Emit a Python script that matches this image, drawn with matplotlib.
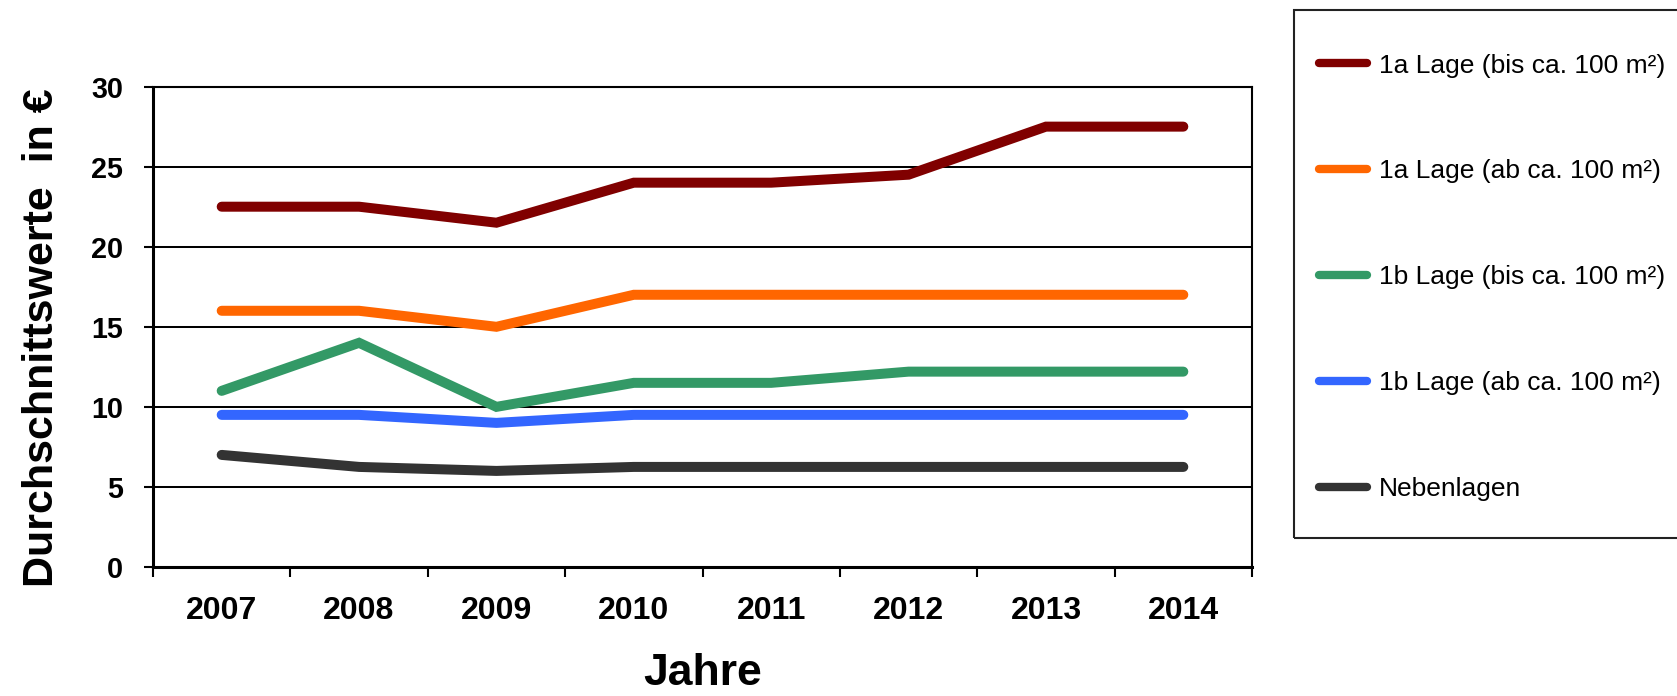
import matplotlib
matplotlib.use("Agg")
import matplotlib.pyplot as plt
from matplotlib.patches import Rectangle

plt.rcParams['font.family'] = ['Liberation Sans', 'DejaVu Sans']

# Daten
jahre = ["2007", "2008", "2009", "2010", "2011", "2012", "2013", "2014"]
lage_1a_bis = [22.5, 22.5, 21.5, 24.0, 24.0, 24.5, 27.5, 27.5]
lage_1a_ab = [16.0, 16.0, 15.0, 17.0, 17.0, 17.0, 17.0, 17.0]
lage_1b_bis = [11.0, 14.0, 10.0, 11.5, 11.5, 12.2, 12.2, 12.2]
lage_1b_ab = [9.5, 9.5, 9.0, 9.5, 9.5, 9.5, 9.5, 9.5]
nebenlagen = [7.0, 6.25, 6.0, 6.25, 6.25, 6.25, 6.25, 6.25]

namen = ["1a Lage (bis ca. 100 m²)", "1a Lage (ab ca. 100 m²)",
         "1b Lage (bis ca. 100 m²)", "1b Lage (ab ca. 100 m²)", "Nebenlagen"]
farben = ["#800000", "#FF6600", "#339966", "#3366FF", "#333333"]
reihen = [lage_1a_bis, lage_1a_ab, lage_1b_bis, lage_1b_ab, nebenlagen]

W, H = 1677, 696
fig = plt.figure(figsize=(W / 100, H / 100), dpi=100)
ax = fig.add_axes([153 / W, 1 - 567 / H, (1252 - 153) / W, (567 - 86.6) / H])

x = list(range(len(jahre)))
for werte, name, farbe in zip(reihen, namen, farben):
    ax.plot(x, werte, color=farbe, lw=7.2, solid_capstyle='round',
            solid_joinstyle='miter', label=name, zorder=3)

ax.set_xlim(-0.5, len(jahre) - 0.5)
ax.set_ylim(0, 30)
ax.set_yticks(range(0, 31, 5))
ax.yaxis.grid(True, color='black', lw=1.45)
ax.set_axisbelow(True)

ax.set_xticks(x)
ax.set_xticklabels(jahre)
ax.set_xticks([i - 0.5 for i in range(len(jahre) + 1)], minor=True)
ax.tick_params(axis='x', which='major', length=0, pad=21, labelsize=23)
ax.tick_params(axis='x', which='minor', length=7, width=1.5, direction='out')
ax.tick_params(axis='y', length=6.5, width=1.5, pad=15, labelsize=20.7)
for lab in ax.get_xticklabels() + ax.get_yticklabels():
    lab.set_fontweight('bold')
for s in ax.spines.values():
    s.set_linewidth(1.5)
ax.spines['left'].set_linewidth(2.2)
ax.spines['bottom'].set_linewidth(2.2)

ax.set_ylabel("Durchschnittswerte  in €", fontsize=31, fontweight='bold')
ax.yaxis.set_label_coords(-0.0825, 0.478)
ax.set_xlabel("Jahre", fontsize=32, fontweight='bold')
ax.xaxis.set_label_coords(0.5, -0.179)

# Legendenrahmen
fig.patches.append(Rectangle((1294 / W, 1 - 538 / H), 0.3, (538 - 10) / H,
                             transform=fig.transFigure, fill=False,
                             edgecolor='#222222', lw=1.5))
leg = fig.legend(loc='upper left', bbox_to_anchor=(1308 / W, 1 - 43 / H),
                 frameon=False, fontsize=19, handlelength=1.84,
                 handletextpad=0.44, labelspacing=3.1, borderaxespad=0)
for h in leg.get_lines():
    h.set_linewidth(6)
    h.set_solid_capstyle('round')

fig.savefig("out.png", dpi=100)
